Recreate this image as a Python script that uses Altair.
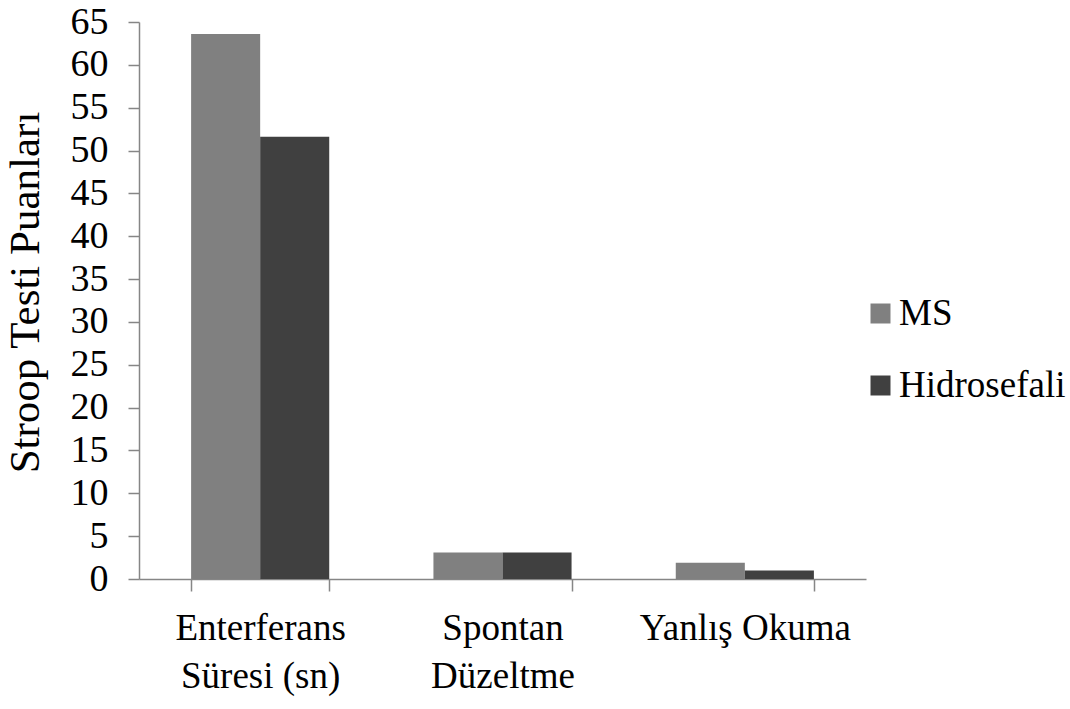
import altair as alt
import pandas as pd

# Stroop test scores by group
categories = ["Enterferans|Süresi (sn)", "Spontan|Düzeltme", "Yanlış Okuma"]
groups = ["MS", "Hidrosefali"]
ms_values = [63.6, 3.1, 1.9]
hidro_values = [51.6, 3.1, 1.0]
y_ticks = list(range(0, 66, 5))
colors = ["#808080", "#404040"]

rows = []
for cat, ms, hd in zip(categories, ms_values, hidro_values):
    rows.append({"kategori": cat, "grup": groups[0], "puan": ms})
    rows.append({"kategori": cat, "grup": groups[1], "puan": hd})
df = pd.DataFrame(rows)

FONT = "Liberation Serif"
AXIS_GRAY = "#868686"

chart = alt.Chart(df).mark_bar().encode(
    x=alt.X(
        "kategori:N",
        sort=categories,
        scale=alt.Scale(paddingInner=0.43, paddingOuter=0.215),
        axis=alt.Axis(
            title=None,
            labelAngle=0,
            labelExpr="isValid(datum.value) ? split(datum.value, '|') : ''",
            labelLineHeight=48,
            labelBaseline="top",
            labelPadding=19,
            labelLimit=400,
            labelFontSize=37,
            tickBand="extent",
            tickSize=12,
        ),
    ),
    xOffset=alt.XOffset(
        "grup:N",
        sort=groups,
        scale=alt.Scale(paddingInner=0, paddingOuter=0),
    ),
    y=alt.Y(
        "puan:Q",
        scale=alt.Scale(domain=[0, 65], nice=False),
        axis=alt.Axis(
            title="Stroop Testi Puanları",
            values=y_ticks,
            grid=False,
            labelPadding=20,
            labelFontSize=38,
            tickSize=11,
            titleFontSize=43,
            titleAngle=270,
            titleBaseline="alphabetic",
            titleAlign="center",
            titleX=-101,
            titleY=270,
        ),
    ),
    color=alt.Color(
        "grup:N",
        sort=groups,
        scale=alt.Scale(domain=groups, range=colors),
        legend=alt.Legend(
            title=None,
            orient="none",
            legendX=723,
            legendY=273,
            padding=0,
            symbolType="square",
            symbolSize=400,
            symbolStrokeWidth=0,
            symbolOpacity=1,
            labelOffset=0,
            rowPadding=34,
            labelLimit=300,
        ),
    ),
).properties(
    width=727,
    height=557,
    background="white",
    autosize=alt.AutoSizeParams(type="none"),
    padding={"left": 139, "top": 22, "right": 204, "bottom": 130},
).configure(
    font=FONT,
).configure_axis(
    labelFont=FONT,
    labelColor="black",
    titleFont=FONT,
    titleFontWeight="normal",
    titleColor="black",
    tickColor=AXIS_GRAY,
    domainColor=AXIS_GRAY,
    tickWidth=1.5,
    domainWidth=1.5,
).configure_legend(
    labelFont=FONT,
    labelFontSize=37,
    labelColor="black",
).configure_view(stroke=None)

chart.save("out.html", embed_options={"renderer": "svg", "actions": False})
